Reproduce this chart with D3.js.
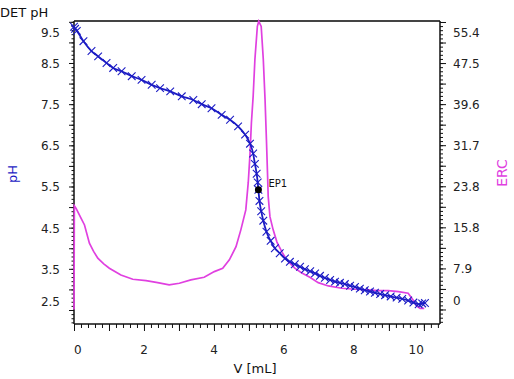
<!DOCTYPE html>
<html><head><meta charset="utf-8">
<script src="https://cdn.jsdelivr.net/npm/d3@7/dist/d3.min.js"></script>
<style>
body{margin:0;background:#fff;}
text{font-family:"DejaVu Sans",Verdana,sans-serif;}
</style>
</head><body>
<svg id="chart" width="514" height="379"></svg>
<script>
// ---- data ----
const phVolume = [0.00,0.03,0.08,0.27,0.50,0.69,0.93,1.12,1.36,1.65,1.93,2.22,2.46,2.75,3.08,3.41,3.65,3.93,4.22,4.46,4.69,4.89,5.03,5.12,5.17,5.22,5.25,5.27,5.30,5.35,5.41,5.50,5.62,5.74,5.88,6.03,6.17,6.31,6.46,6.60,6.75,6.89,7.03,7.17,7.32,7.46,7.60,7.74,7.89,8.03,8.17,8.31,8.46,8.60,8.75,8.89,9.05,9.22,9.38,9.55,9.70,9.85,9.95,10.03];
const phValues = [9.38,9.33,9.28,9.03,8.79,8.66,8.50,8.38,8.30,8.18,8.09,7.97,7.89,7.81,7.69,7.60,7.50,7.40,7.24,7.12,6.96,6.76,6.54,6.30,6.05,5.81,5.60,5.42,5.15,4.90,4.67,4.40,4.18,4.00,3.88,3.75,3.67,3.61,3.55,3.49,3.44,3.39,3.33,3.28,3.23,3.19,3.16,3.13,3.09,3.06,3.02,2.98,2.95,2.92,2.89,2.86,2.83,2.80,2.77,2.73,2.68,2.64,2.66,2.67];

const ercVolume = [0.00,0.01,0.06,0.20,0.30,0.44,0.56,0.68,0.85,1.01,1.34,1.68,2.06,2.39,2.72,3.01,3.34,3.72,4.01,4.25,4.44,4.63,4.77,4.91,4.98,5.03,5.07,5.12,5.17,5.24,5.28,5.35,5.41,5.46,5.50,5.53,5.55,5.60,5.69,5.80,5.95,6.08,6.31,6.50,6.74,6.98,7.27,7.65,8.03,8.41,8.69,8.98,9.27,9.55,9.69,9.79,9.89,10.01];
const ercValues = [0.0,20.0,19.5,17.6,16.3,12.8,11.2,9.9,8.8,7.96,6.66,5.83,5.57,5.18,4.73,5.06,5.70,6.22,7.3,7.96,9.56,12.1,15.4,19.2,24.5,30.0,36.0,41.1,48.2,54.6,55.6,54.6,48.2,40.5,32.7,26.3,21.8,17.9,15.4,13.0,11.0,9.56,7.96,7.1,6.2,5.18,4.54,4.09,3.9,3.77,3.63,3.63,3.44,3.13,1.84,0.68,0.23,0.23];

const xTickValues = [0,2,4,6,8,10];
const xTickLabels = ["0","2","4","6","8","10"];
const phTickValues = [9.5,8.5,7.5,6.5,5.5,4.5,3.5,2.5];
const phTickLabels = ["9.5","8.5","7.5","6.5","5.5","4.5","3.5","2.5"];
const ercTickValues = [55.44,47.52,39.6,31.68,23.76,15.84,7.92,0];
const ercTickLabels = ["55.4","47.5","39.6","31.7","23.8","15.8","7.9","0"];

const endpointLabel = "EP1";
const endpointVolume = 5.27;
const endpointPh = 5.42;

// ---- layout ----
const W = 514, H = 379;
const L = 74, R = 440, T = 21, B = 324;
const svg = d3.select("#chart");
svg.append("rect").attr("width", W).attr("height", H).attr("fill", "#fff");

const x = d3.scaleLinear().domain([0, 10.46]).range([L, R]);
const yPh = d3.scaleLinear().domain([2.16, 9.52]).range([B, T]);
const yErc = d3.scaleLinear().domain([-2.80, 55.63]).range([B, T]);

const blue = "#1c1cc4", pink = "#e040e0";

function ticksAxis(axis, g) {
  g.call(axis);
  g.select(".domain").remove();
  g.selectAll(".tick line").attr("stroke", "#111").attr("stroke-width", 1);
}
const phMinor = d3.range(22, 96).map(d => d / 10);
const phMajor = d3.range(5, 20).map(d => d / 2);
ticksAxis(d3.axisLeft(yPh).tickValues(phMinor).tickSize(2.5).tickFormat(""),
  svg.append("g").attr("transform", `translate(${L},0)`));
ticksAxis(d3.axisLeft(yPh).tickValues(phMajor).tickSize(5).tickFormat(""),
  svg.append("g").attr("transform", `translate(${L},0)`));

const ercMinor = d3.range(-3, 71).map(i => i * 0.792);
const ercMajor = d3.range(0, 15).map(i => i * 3.96);
ticksAxis(d3.axisRight(yErc).tickValues(ercMinor).tickSize(3).tickFormat(""),
  svg.append("g").attr("transform", `translate(${R},0)`));
ticksAxis(d3.axisRight(yErc).tickValues(ercMajor).tickSize(6).tickFormat(""),
  svg.append("g").attr("transform", `translate(${R},0)`));

const xMinor = d3.range(0, 53).map(i => i * 0.2);
const xMajor = d3.range(0, 11);
ticksAxis(d3.axisBottom(x).tickValues(xMinor).tickSize(4).tickFormat(""),
  svg.append("g").attr("transform", `translate(0,${B})`));
ticksAxis(d3.axisBottom(x).tickValues(xMajor).tickSize(7).tickFormat(""),
  svg.append("g").attr("transform", `translate(0,${B})`));

// frame
svg.append("line").attr("x1", L).attr("x2", R).attr("y1", T).attr("y2", T).attr("stroke", "#444").attr("stroke-width", 2);
svg.append("line").attr("x1", L).attr("x2", L).attr("y1", T).attr("y2", B).attr("stroke", "#111").attr("stroke-width", 1.5);
svg.append("line").attr("x1", R).attr("x2", R).attr("y1", T).attr("y2", B).attr("stroke", "#111").attr("stroke-width", 1.5);
svg.append("line").attr("x1", L).attr("x2", R).attr("y1", B).attr("y2", B).attr("stroke", "#111").attr("stroke-width", 1.5);

// tick labels
const n = phTickValues.length;
const shift = i => i === 0 ? 10 : (i === n - 1 ? -9 : 0);
svg.append("g").selectAll("text").data(phTickValues).join("text")
  .attr("x", L - 14).attr("y", (d, i) => yPh(d) + 5 + shift(i))
  .attr("text-anchor", "end").attr("font-size", 12).attr("fill", "#222")
  .text((d, i) => phTickLabels[i]);
svg.append("g").selectAll("text").data(ercTickValues).join("text")
  .attr("x", R + 13).attr("y", (d, i) => yErc(d) + 5 + shift(i))
  .attr("text-anchor", "start").attr("font-size", 12).attr("fill", "#222")
  .text((d, i) => ercTickLabels[i]);
svg.append("g").selectAll("text").data(xTickValues).join("text")
  .attr("x", d => x(d)).attr("y", B + 30)
  .attr("text-anchor", (d, i) => i === 0 ? "start" : (i === xTickValues.length - 1 ? "end" : "middle"))
  .attr("font-size", 12).attr("fill", "#222")
  .text((d, i) => xTickLabels[i]);

// axis titles
svg.append("text").attr("x", 0).attr("y", 17).attr("font-size", 13).attr("fill", "#111").text("DET pH");
svg.append("text").attr("transform", `translate(17,174) rotate(-90)`).attr("text-anchor", "middle")
  .attr("font-size", 13).attr("fill", blue).text("pH");
svg.append("text").attr("transform", `translate(507,173) rotate(-90)`).attr("text-anchor", "middle")
  .attr("font-size", 14).attr("fill", pink).text("ERC");
svg.append("text").attr("x", 255).attr("y", 373).attr("text-anchor", "middle")
  .attr("font-size", 13).attr("fill", "#111").text("V [mL]");

// ERC curve
const ercData = ercVolume.map((v, i) => [v, ercValues[i]]);
svg.append("path").datum(ercData)
  .attr("fill", "none").attr("stroke", pink).attr("stroke-width", 1.7)
  .attr("d", d3.line().x(d => x(d[0])).y(d => yErc(d[1])));

// pH curve
const phData = phVolume.map((v, i) => [v, phValues[i]]);
svg.append("path").datum(phData)
  .attr("fill", "none").attr("stroke", blue).attr("stroke-width", 1.8)
  .attr("d", d3.line().curve(d3.curveMonotoneX).x(d => x(d[0])).y(d => yPh(d[1])));
const cross = d3.symbol().type(d3.symbolX).size(40);
svg.append("g").selectAll("path").data(phData).join("path")
  .attr("transform", d => `translate(${x(d[0])},${yPh(d[1])})`)
  .attr("d", cross).attr("fill", "none").attr("stroke", blue).attr("stroke-width", 1.1);

// endpoint
svg.append("circle").attr("cx", x(endpointVolume)).attr("cy", yPh(endpointPh)).attr("r", 3.5).attr("fill", "#000");
svg.append("text").attr("x", x(endpointVolume) + 10).attr("y", yPh(endpointPh) - 3)
  .attr("font-size", 10).attr("fill", "#111").text(endpointLabel);
</script>
</body></html>
